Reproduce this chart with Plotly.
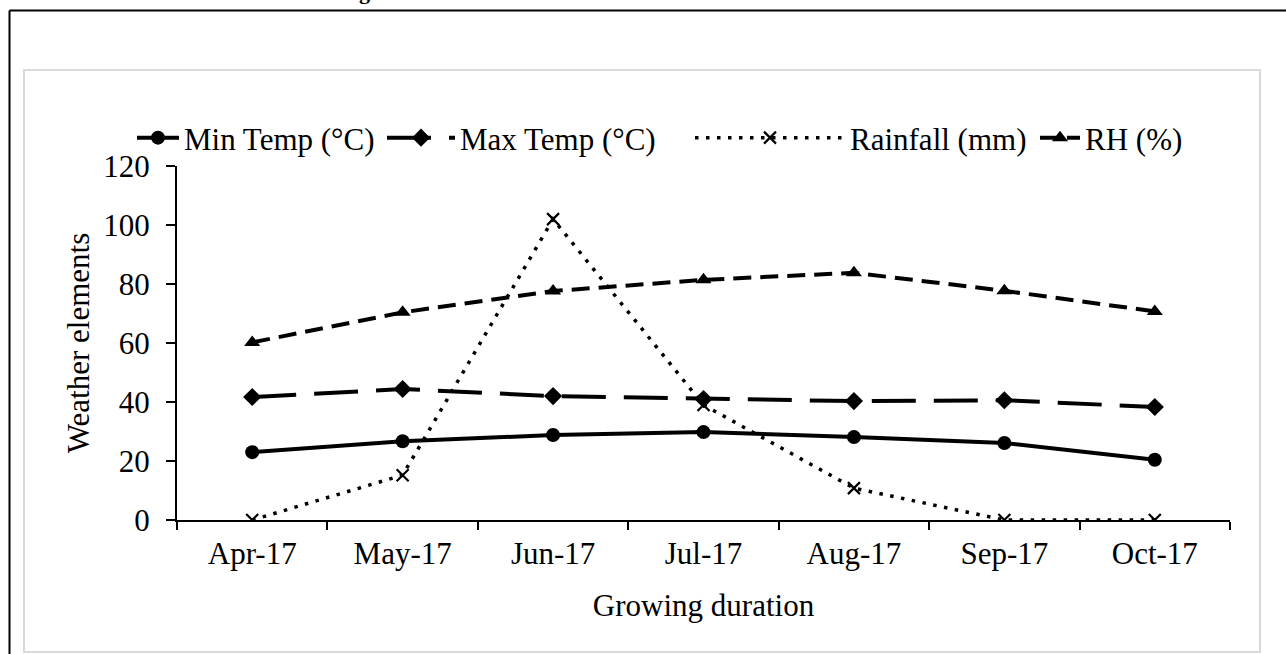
import plotly.graph_objects as go

# Monthly weather during the growing season
months = ["Apr-17", "May-17", "Jun-17", "Jul-17", "Aug-17", "Sep-17", "Oct-17"]
min_temp = [23.0, 26.7, 28.8, 29.8, 28.1, 26.1, 20.4]
max_temp = [41.7, 44.4, 42.0, 41.0, 40.3, 40.6, 38.3]
rainfall = [0.0, 15.2, 102.0, 39.0, 10.8, 0.0, 0.0]
rel_hum = [60.2, 70.4, 77.6, 81.4, 83.8, 77.7, 70.7]

W, H = 1286, 654
L, R, T, B = 177, 56, 166, 134
PW, PH = W - L - R, H - T - B
FONT = "Liberation Serif"
FS = 31


def px(x):
    return (x - L) / PW


def py(y):
    return (H - B - y) / PH


fig = go.Figure()

fig.add_trace(go.Scatter(
    x=months, y=min_temp, name="Min Temp (°C)", mode="lines+markers",
    line=dict(color="black", width=4),
    marker=dict(symbol="circle", size=14, color="black"),
    legend="legend",
))
fig.add_trace(go.Scatter(
    x=months, y=max_temp, name="Max Temp (°C)", mode="lines+markers",
    line=dict(color="black", width=4, dash="44px,18px"),
    marker=dict(symbol="diamond", size=14, color="black"),
    legend="legend2",
))
fig.add_trace(go.Scatter(
    x=months, y=rainfall, name="Rainfall (mm)", mode="lines+markers",
    line=dict(color="black", width=3.5, dash="3.5px,7.5px"),
    marker=dict(symbol="x-thin", size=12, color="black",
                line=dict(color="black", width=2.2)),
    legend="legend3",
))
fig.add_trace(go.Scatter(
    x=months, y=rel_hum, name="RH (%)", mode="lines+markers",
    line=dict(color="black", width=4, dash="18px,9px"),
    marker=dict(symbol="triangle-up", size=14, color="black"),
    legend="legend4",
))

# outer black frame (runs off the right and bottom edges) and inner grey chart border
fig.add_shape(type="line", xref="paper", yref="paper",
              x0=px(9.5), x1=px(W + 10), y0=py(10.5), y1=py(10.5),
              line=dict(color="black", width=2))
fig.add_shape(type="line", xref="paper", yref="paper",
              x0=px(9.5), x1=px(9.5), y0=py(10.5), y1=py(H + 10),
              line=dict(color="black", width=2))
fig.add_shape(type="rect", xref="paper", yref="paper",
              x0=px(24), x1=px(1260), y0=py(70), y1=py(652),
              line=dict(color="#d9d9d9", width=2))

# tail of the caption line above the frame
fig.add_annotation(text="<b>g</b>", xref="paper", yref="paper",
                   x=px(364), y=py(6), xanchor="center", yanchor="bottom",
                   showarrow=False, font=dict(family=FONT, size=22, color="black"))


def legend_box(x_left, item_w):
    return dict(
        orientation="h", x=px(x_left), xanchor="left", y=py(111), yanchor="top",
        font=dict(family=FONT, size=FS, color="black"),
        bgcolor="rgba(0,0,0,0)", itemwidth=item_w,
    )


fig.update_layout(
    width=W, height=H,
    margin=dict(l=L, r=R, t=T, b=B),
    paper_bgcolor="white", plot_bgcolor="white",
    font=dict(family=FONT, size=FS, color="black"),
    showlegend=True,
    legend=legend_box(132, 42),
    legend2=legend_box(382, 68),
    legend3=legend_box(690, 150),
    legend4=legend_box(1035, 40),
    xaxis=dict(
        type="category", range=[-0.5, 6.5],
        showline=True, linecolor="black", linewidth=2,
        ticks="outside", tickson="boundaries", ticklen=8, tickwidth=2, tickcolor="black",
        showgrid=False, zeroline=False, ticklabelstandoff=5,
        tickfont=dict(family=FONT, size=FS, color="black"),
        title=dict(text="Growing duration", standoff=24,
                   font=dict(family=FONT, size=FS, color="black")),
    ),
    yaxis=dict(
        range=[0, 120], dtick=20,
        showline=True, linecolor="black", linewidth=2,
        ticks="outside", ticklen=9, tickwidth=2, tickcolor="black",
        showgrid=False, zeroline=False, ticklabelstandoff=10,
        tickfont=dict(family=FONT, size=FS, color="black"),
        title=dict(text="Weather elements", standoff=4,
                   font=dict(family=FONT, size=FS, color="black")),
    ),
)

fig.write_html("out.html")
